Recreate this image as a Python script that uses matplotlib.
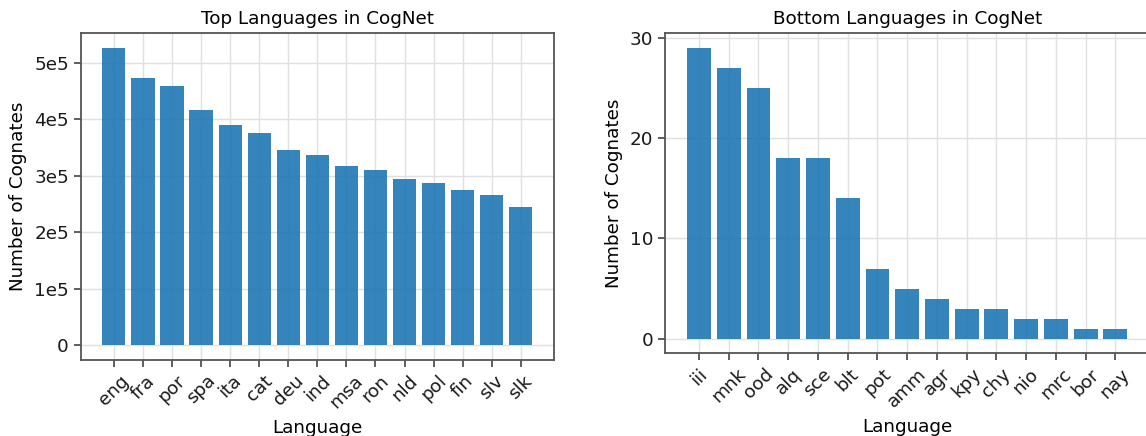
import matplotlib
matplotlib.use('Agg')
import matplotlib.pyplot as plt
from matplotlib.ticker import FuncFormatter

top_langs = ['eng', 'fra', 'por', 'spa', 'ita', 'cat', 'deu', 'ind', 'msa',
             'ron', 'nld', 'pol', 'fin', 'slv', 'slk']
top_counts = [525400, 473300, 459100, 416400, 389700, 375400, 345200, 336300,
              316700, 309600, 293600, 286500, 274000, 265100, 243800]

bottom_langs = ['iii', 'mnk', 'ood', 'alq', 'sce', 'blt', 'pot', 'amm', 'agr',
                'kpy', 'chy', 'nio', 'mrc', 'bor', 'nay']
bottom_counts = [29, 27, 25, 18, 18, 14, 7, 5, 4, 3, 3, 2, 2, 1, 1]

plt.rcParams['font.family'] = ['DejaVu Sans']

W, H = 1146, 436
fig = plt.figure(figsize=(W / 100, H / 100), dpi=100, facecolor='white')

# axes boxes in pixels: left, right, top, bottom
ax1 = fig.add_axes([80.7 / W, 1 - 360 / H, (554 - 80.7) / W, (360 - 33.3) / H])
ax2 = fig.add_axes([665 / W, 1 - 353.3 / H, (1149.3 - 665) / W, (353.3 - 33.3) / H])

bar_color = '#1f77b4'
spine_color = '#555555'
fs = 13.2


def style(ax):
    ax.use_sticky_edges = False
    ax.set_axisbelow(True)
    ax.grid(color='#e0e0e0', linewidth=1.0)
    for s in ax.spines.values():
        s.set_color(spine_color)
        s.set_linewidth(1.3)
    ax.tick_params(axis='both', direction='out', length=5, width=1.1,
                   color='#333333', labelsize=fs, labelcolor='#1a1a1a')
    ax.tick_params(axis='x', labelrotation=45)
    ax.set_xlabel('Language', fontsize=fs, labelpad=5)
    ax.set_ylabel('Number of Cognates', fontsize=fs, labelpad=5)


# left: most frequent languages
ax1.bar(top_langs, top_counts, color=bar_color, alpha=0.9, width=0.8)
style(ax1)
ax1.set_title('Top Languages in CogNet', fontsize=fs, pad=7)
ax1.set_yticks([0, 100000, 200000, 300000, 400000, 500000])
ax1.yaxis.set_major_formatter(
    FuncFormatter(lambda v, p: '0' if v == 0 else '%de5' % round(v / 1e5)))
ax1.autoscale_view()

# right: least frequent languages
ax2.bar(bottom_langs, bottom_counts, color=bar_color, alpha=0.9, width=0.8)
style(ax2)
ax2.set_title('Bottom Languages in CogNet', fontsize=fs, pad=7)
ax2.set_yticks([0, 10, 20, 30])
ax2.autoscale_view()

fig.savefig('out.png', dpi=100, facecolor='white')
